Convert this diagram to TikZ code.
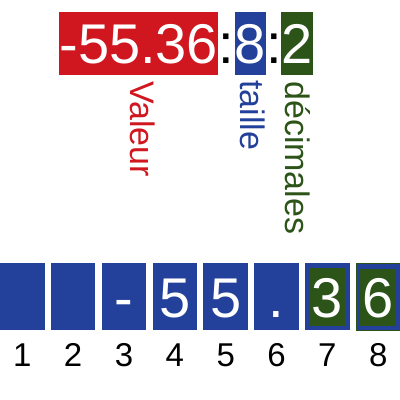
\documentclass[tikz,border=0pt]{standalone}
\usepackage{fontspec}
\setmainfont{Liberation Sans}
\definecolor{vred}{RGB}{208,22,30}
\definecolor{vblue}{RGB}{35,65,154}
\definecolor{vgreen}{RGB}{44,84,25}
\tikzset{
  topbox/.style={inner xsep=0pt, inner ysep=0pt, text height=50.7pt, text depth=12pt,
    font=\fontsize{56}{60}\selectfont, text=white, anchor=base},
  colon/.style={inner sep=0pt, font=\fontsize{56}{60}\selectfont, text=black, anchor=base},
  lab/.style={inner sep=0pt, rotate=-90, anchor=base west, font=\fontsize{34}{37}\selectfont},
  cell/.style={inner sep=0pt, minimum width=44.5pt, text height=54pt, text depth=12.7pt,
    fill=vblue, text=white, anchor=base, font=\fontsize{56}{60}\selectfont},
  inner/.style={inner sep=0pt, fill=vgreen},
  idx/.style={inner sep=0pt, anchor=base, font=\fontsize{33}{36}\selectfont, text=black}
}
\begin{document}
\begin{tikzpicture}[x=1pt,y=-1pt]
\useasboundingbox (0,0) rectangle (400,400);
% top expression
\node[topbox, fill=vred, minimum width=158.5pt] (val) at (138.75,63) {-55.36};
\node[colon] (c1) at (226.5,63) {:};
\node[topbox, fill=vblue, minimum width=31pt] (taille) at (250.5,63) {8};
\node[colon] (c2) at (274,63) {:};
\node[topbox, fill=vgreen, minimum width=31pt] (dec) at (297,63) {2};
% labels
\node[lab, text=vred] (lv) at (130,81) {Valeur};
\node[lab, text=vblue] (lt) at (240,80) {taille};
\node[lab, text=vgreen] (ld) at (285,81) {décimales};
% cells
\foreach \i/\c in {1/{},2/{},3/{-},4/5,5/5,6/{.}}{
  \node[cell] (b\i) at ({(\i-1)*50.86+22.25},317.3) {\c};
}
\node[cell] (b7) at ({6*50.86+22.25},317.3) {\phantom{3}};
\node[inner, minimum width=35.5pt, minimum height=58pt] (g7) at ({6*50.86+22.25},297.2) {};
\node[cell, text=white, fill=none] (t7) at ({6*50.86+22.25},317.3) {3};
\node[cell, draw=vgreen, line width=0.8pt] (b8) at ({7*50.86+22.25},317.3) {\phantom{6}};
\node[inner, minimum width=36pt, minimum height=57pt] (g8) at ({7*50.86+22.25},297.5) {};
\node[cell, text=white, fill=none] (t8) at ({7*50.86+22.25},317.3) {6};
% indices
\foreach \i in {1,...,8}{
  \node[idx] (n\i) at ({(\i-1)*50.86+22.25},366) {\i};
}
\end{tikzpicture}
\end{document}
